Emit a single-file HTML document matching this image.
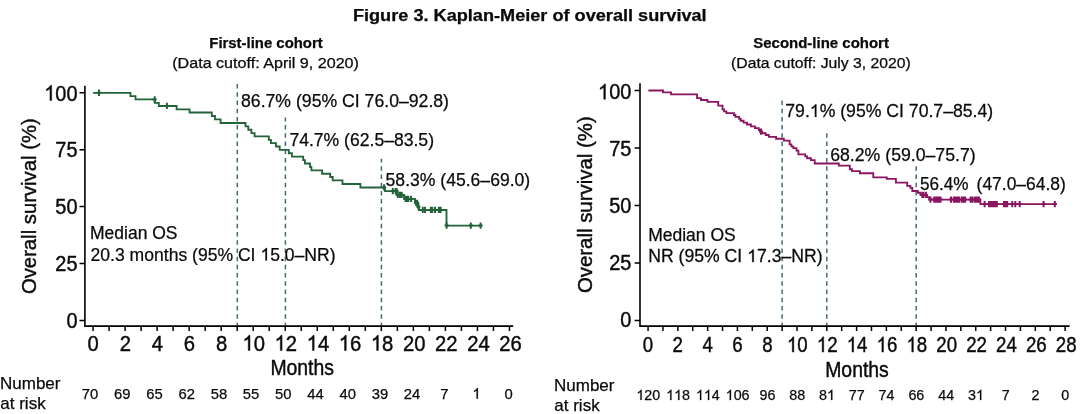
<!DOCTYPE html>
<html lang="en">
<head>
<meta charset="utf-8">
<title>Figure 3. Kaplan-Meier of overall survival</title>
<style>
html,body{margin:0;padding:0;background:#fff;}
body{width:1080px;height:414px;overflow:hidden;font-family:"Liberation Sans",sans-serif;}
svg{display:block;will-change:transform;}
svg text{font-family:"Liberation Sans",sans-serif;fill:#0a0a0a;stroke:#0a0a0a;stroke-width:0.25px;}
svg .ax text{stroke-width:0.42px;}
</style>
</head>
<body>
<svg width="1080" height="414" viewBox="0 0 1080 414" role="img" aria-label="Kaplan-Meier curves of overall survival for first-line and second-line cohorts">
<g id="titles">
<text x="529.8" y="20.8" font-size="15.6" text-anchor="middle" font-weight="bold" textLength="353.7" lengthAdjust="spacingAndGlyphs">Figure 3. Kaplan-Meier of overall survival</text>
<text x="266.0" y="47.8" font-size="14.0" text-anchor="middle" font-weight="bold" textLength="113.4" lengthAdjust="spacingAndGlyphs">First-line cohort</text>
<text x="265.6" y="68.2" font-size="13.8" text-anchor="middle" textLength="186.7" lengthAdjust="spacingAndGlyphs">(Data cutoff: April 9, 2020)</text>
<text x="821.1" y="47.8" font-size="14.0" text-anchor="middle" font-weight="bold" textLength="135.6" lengthAdjust="spacingAndGlyphs">Second-line cohort</text>
<text x="820.9" y="68.2" font-size="13.8" text-anchor="middle" textLength="179.6" lengthAdjust="spacingAndGlyphs">(Data cutoff: July 3, 2020)</text>
</g>
<g id="left-plot">
<path d="M237.3 326.9V83.7" stroke="#486a78" stroke-width="1.5" stroke-dasharray="4.5 3.72" fill="none"/>
<path d="M285.4 326.9V117.5" stroke="#486a78" stroke-width="1.5" stroke-dasharray="4.5 3.72" fill="none"/>
<path d="M381.4 326.9V158.8" stroke="#486a78" stroke-width="1.5" stroke-dasharray="4.5 3.72" fill="none"/>
<g class="ax">
<path d="M84.9 85.8V326.1H513.2" fill="none" stroke="#000000" stroke-width="1.6"/>
<g transform="translate(77.50 100.50) scale(0.94 1)"><path d="M763 0H583V1147Q518 1085 412 1023T223 930V1104Q374 1175 487 1276T647 1472H763Z" transform="translate(-35.37 0) scale(0.01035 -0.01035)" fill="#0a0a0a" stroke="#0a0a0a" stroke-width="41"/><text x="-23.58" y="0" font-size="21.2">00</text></g>
<text transform="translate(77.50 157.40) scale(0.94 1)" font-size="21.2" text-anchor="end">75</text>
<text transform="translate(77.50 214.30) scale(0.94 1)" font-size="21.2" text-anchor="end">50</text>
<text transform="translate(77.50 271.20) scale(0.94 1)" font-size="21.2" text-anchor="end">25</text>
<text transform="translate(77.50 328.10) scale(0.94 1)" font-size="21.2" text-anchor="end">0</text>
<text transform="translate(93.20 350.50) scale(0.955 1)" font-size="21.2" text-anchor="middle">0</text>
<text transform="translate(125.30 350.50) scale(0.955 1)" font-size="21.2" text-anchor="middle">2</text>
<text transform="translate(157.40 350.50) scale(0.955 1)" font-size="21.2" text-anchor="middle">4</text>
<text transform="translate(189.50 350.50) scale(0.955 1)" font-size="21.2" text-anchor="middle">6</text>
<text transform="translate(221.60 350.50) scale(0.955 1)" font-size="21.2" text-anchor="middle">8</text>
<g transform="translate(253.70 350.50) scale(0.955 1)"><path d="M763 0H583V1147Q518 1085 412 1023T223 930V1104Q374 1175 487 1276T647 1472H763Z" transform="translate(-11.79 0) scale(0.01035 -0.01035)" fill="#0a0a0a" stroke="#0a0a0a" stroke-width="41"/><text x="0.00" y="0" font-size="21.2">0</text></g>
<g transform="translate(285.80 350.50) scale(0.955 1)"><path d="M763 0H583V1147Q518 1085 412 1023T223 930V1104Q374 1175 487 1276T647 1472H763Z" transform="translate(-11.79 0) scale(0.01035 -0.01035)" fill="#0a0a0a" stroke="#0a0a0a" stroke-width="41"/><text x="0.00" y="0" font-size="21.2">2</text></g>
<g transform="translate(317.90 350.50) scale(0.955 1)"><path d="M763 0H583V1147Q518 1085 412 1023T223 930V1104Q374 1175 487 1276T647 1472H763Z" transform="translate(-11.79 0) scale(0.01035 -0.01035)" fill="#0a0a0a" stroke="#0a0a0a" stroke-width="41"/><text x="0.00" y="0" font-size="21.2">4</text></g>
<g transform="translate(350.00 350.50) scale(0.955 1)"><path d="M763 0H583V1147Q518 1085 412 1023T223 930V1104Q374 1175 487 1276T647 1472H763Z" transform="translate(-11.79 0) scale(0.01035 -0.01035)" fill="#0a0a0a" stroke="#0a0a0a" stroke-width="41"/><text x="0.00" y="0" font-size="21.2">6</text></g>
<g transform="translate(382.10 350.50) scale(0.955 1)"><path d="M763 0H583V1147Q518 1085 412 1023T223 930V1104Q374 1175 487 1276T647 1472H763Z" transform="translate(-11.79 0) scale(0.01035 -0.01035)" fill="#0a0a0a" stroke="#0a0a0a" stroke-width="41"/><text x="0.00" y="0" font-size="21.2">8</text></g>
<text transform="translate(414.20 350.50) scale(0.955 1)" font-size="21.2" text-anchor="middle">20</text>
<text transform="translate(446.30 350.50) scale(0.955 1)" font-size="21.2" text-anchor="middle">22</text>
<text transform="translate(478.40 350.50) scale(0.955 1)" font-size="21.2" text-anchor="middle">24</text>
<text transform="translate(510.50 350.50) scale(0.955 1)" font-size="21.2" text-anchor="middle">26</text>
<path d="M79.5 92.8H84.9M79.5 149.7H84.9M79.5 206.6H84.9M79.5 263.5H84.9M79.5 320.4H84.9M93.07 326.1V331.1M109.08 326.1V331.1M125.10 326.1V331.1M141.12 326.1V331.1M157.13 326.1V331.1M173.14 326.1V331.1M189.16 326.1V331.1M205.18 326.1V331.1M221.19 326.1V331.1M237.20 326.1V331.1M253.22 326.1V331.1M269.24 326.1V331.1M285.25 326.1V331.1M301.26 326.1V331.1M317.28 326.1V331.1M333.30 326.1V331.1M349.31 326.1V331.1M365.32 326.1V331.1M381.34 326.1V331.1M397.36 326.1V331.1M413.37 326.1V331.1M429.38 326.1V331.1M445.40 326.1V331.1M461.42 326.1V331.1M477.43 326.1V331.1M493.44 326.1V331.1M509.46 326.1V331.1" fill="none" stroke="#000000" stroke-width="1.5"/>
<text transform="translate(302.20 375.00) scale(0.915 1)" font-size="21.2" text-anchor="middle">Months</text>
<text transform="translate(35.8 206.2) rotate(-90)" font-size="20.3" text-anchor="middle">Overall survival (%)</text>
</g>
<path d="M93.1 92.8H130.4V96.1H135.5V99.4H155.0V102.8H158.8V106.0H176.6V109.3H189.6V112.5H211.8V116.0H215.0V119.4H220.6V123.0H245.5V126.4H248.3V129.7H251.4V133.1H254.6V136.4H268.8V139.8H270.9V143.1H276.0V146.5H279.7V149.8H288.8V153.2H291.9V156.6H303.2V160.1H304.9V163.5H310.1V167.0H311.4V170.4H322.1V173.7H330.2V177.0H332.7V180.4H342.5V184.0H360.4V187.5H385.0V191.1H396.7V195.0H404.1V198.9H415.0V202.8H417.8V206.7H418.9V210.0H446.5V225.6H482.2" fill="none" stroke="#22633a" stroke-width="1.85" stroke-linejoin="miter"/>
<path d="M99.0 89.6v6.3M97.0 92.8h4.0M154.7 96.2v6.3M152.7 99.4h4.0M166.9 102.8v6.3M164.9 106.0h4.0M384.1 184.3v6.3M382.1 187.5h4.0M392.8 187.9v6.3M390.8 191.1h4.0M395.6 187.9v6.3M393.6 191.1h4.0M396.6 187.9v6.3M394.6 191.1h4.0M397.8 191.8v6.3M395.8 195.0h4.0M400.0 191.8v6.3M398.0 195.0h4.0M401.7 191.8v6.3M399.7 195.0h4.0M405.6 195.8v6.3M403.6 198.9h4.0M407.2 195.8v6.3M405.2 198.9h4.0M408.3 195.8v6.3M406.3 198.9h4.0M411.1 195.8v6.3M409.1 198.9h4.0M416.1 199.7v6.3M414.1 202.8h4.0M417.2 199.7v6.3M415.2 202.8h4.0M418.4 203.5v6.3M416.4 206.7h4.0M422.8 206.8v6.3M420.8 210.0h4.0M425.0 206.8v6.3M423.0 210.0h4.0M430.8 206.8v6.3M428.8 210.0h4.0M432.2 206.8v6.3M430.2 210.0h4.0M435.0 206.8v6.3M433.0 210.0h4.0M438.9 206.8v6.3M436.9 210.0h4.0M440.6 206.8v6.3M438.6 210.0h4.0M446.6 222.4v6.3M444.6 225.6h4.0M470.8 222.4v6.3M468.8 225.6h4.0M480.6 222.4v6.3M478.6 225.6h4.0" fill="none" stroke="#22633a" stroke-width="2.0"/>
<text x="241.0" y="106.8" font-size="17.5" textLength="208" lengthAdjust="spacingAndGlyphs">86.7% (95% CI 76.0–92.8)</text>
<text x="289.4" y="145.8" font-size="17.5" textLength="144.6" lengthAdjust="spacingAndGlyphs">74.7% (62.5–83.5)</text>
<text x="385.6" y="185.5" font-size="17.5" textLength="144.6" lengthAdjust="spacingAndGlyphs">58.3% (45.6–69.0)</text>
<text x="90.0" y="239.3" font-size="17.5">Median OS</text>
<g transform="translate(90.60 260.50) scale(1.0035 1)"><text x="0.00" y="0" font-size="17.5">20.3 months (95% CI </text><path d="M763 0H583V1147Q518 1085 412 1023T223 930V1104Q374 1175 487 1276T647 1472H763Z" transform="translate(169.23 0) scale(0.00854 -0.00854)" fill="#0a0a0a" stroke="#0a0a0a" stroke-width="29"/><text x="178.97" y="0" font-size="17.5">5.0–NR)</text></g>
</g>
<g id="left-risk">
<text x="0.0" y="389.3" font-size="17">Number</text>
<text x="0.3" y="409.1" font-size="17">at risk</text>
<text transform="translate(90.10 398.70) scale(1 1)" font-size="14.8" text-anchor="middle">70</text>
<text transform="translate(122.30 398.70) scale(1 1)" font-size="14.8" text-anchor="middle">69</text>
<text transform="translate(154.50 398.70) scale(1 1)" font-size="14.8" text-anchor="middle">65</text>
<text transform="translate(186.70 398.70) scale(1 1)" font-size="14.8" text-anchor="middle">62</text>
<text transform="translate(218.90 398.70) scale(1 1)" font-size="14.8" text-anchor="middle">58</text>
<text transform="translate(251.10 398.70) scale(1 1)" font-size="14.8" text-anchor="middle">55</text>
<text transform="translate(283.30 398.70) scale(1 1)" font-size="14.8" text-anchor="middle">50</text>
<text transform="translate(315.50 398.70) scale(1 1)" font-size="14.8" text-anchor="middle">44</text>
<text transform="translate(347.70 398.70) scale(1 1)" font-size="14.8" text-anchor="middle">40</text>
<text transform="translate(379.90 398.70) scale(1 1)" font-size="14.8" text-anchor="middle">39</text>
<text transform="translate(412.10 398.70) scale(1 1)" font-size="14.8" text-anchor="middle">24</text>
<text transform="translate(444.30 398.70) scale(1 1)" font-size="14.8" text-anchor="middle">7</text>
<g transform="translate(476.50 398.70) scale(1 1)"><path d="M763 0H583V1147Q518 1085 412 1023T223 930V1104Q374 1175 487 1276T647 1472H763Z" transform="translate(-4.12 0) scale(0.00723 -0.00723)" fill="#0a0a0a" stroke="#0a0a0a" stroke-width="35"/></g>
<text transform="translate(508.70 398.70) scale(1 1)" font-size="14.8" text-anchor="middle">0</text>
</g>
<g id="right-plot">
<path d="M782.1 326.9V99.5" stroke="#486a78" stroke-width="1.5" stroke-dasharray="4.5 3.72" fill="none"/>
<path d="M826.8 326.9V132.8" stroke="#486a78" stroke-width="1.5" stroke-dasharray="4.5 3.72" fill="none"/>
<path d="M916.2 326.9V166.1" stroke="#486a78" stroke-width="1.5" stroke-dasharray="4.5 3.72" fill="none"/>
<g class="ax">
<path d="M640.0 83.3V326.1H1069.6" fill="none" stroke="#000000" stroke-width="1.6"/>
<g transform="translate(631.30 99.20) scale(0.94 1)"><path d="M763 0H583V1147Q518 1085 412 1023T223 930V1104Q374 1175 487 1276T647 1472H763Z" transform="translate(-35.37 0) scale(0.01035 -0.01035)" fill="#0a0a0a" stroke="#0a0a0a" stroke-width="41"/><text x="-23.58" y="0" font-size="21.2">00</text></g>
<text transform="translate(631.30 156.20) scale(0.94 1)" font-size="21.2" text-anchor="end">75</text>
<text transform="translate(631.30 213.20) scale(0.94 1)" font-size="21.2" text-anchor="end">50</text>
<text transform="translate(631.30 270.20) scale(0.94 1)" font-size="21.2" text-anchor="end">25</text>
<text transform="translate(631.30 327.20) scale(0.94 1)" font-size="21.2" text-anchor="end">0</text>
<text transform="translate(647.90 352.10) scale(0.88 1)" font-size="21.2" text-anchor="middle">0</text>
<text transform="translate(677.78 352.10) scale(0.88 1)" font-size="21.2" text-anchor="middle">2</text>
<text transform="translate(707.66 352.10) scale(0.88 1)" font-size="21.2" text-anchor="middle">4</text>
<text transform="translate(737.54 352.10) scale(0.88 1)" font-size="21.2" text-anchor="middle">6</text>
<text transform="translate(767.42 352.10) scale(0.88 1)" font-size="21.2" text-anchor="middle">8</text>
<g transform="translate(797.30 352.10) scale(0.88 1)"><path d="M763 0H583V1147Q518 1085 412 1023T223 930V1104Q374 1175 487 1276T647 1472H763Z" transform="translate(-11.79 0) scale(0.01035 -0.01035)" fill="#0a0a0a" stroke="#0a0a0a" stroke-width="41"/><text x="0.00" y="0" font-size="21.2">0</text></g>
<g transform="translate(827.18 352.10) scale(0.88 1)"><path d="M763 0H583V1147Q518 1085 412 1023T223 930V1104Q374 1175 487 1276T647 1472H763Z" transform="translate(-11.79 0) scale(0.01035 -0.01035)" fill="#0a0a0a" stroke="#0a0a0a" stroke-width="41"/><text x="0.00" y="0" font-size="21.2">2</text></g>
<g transform="translate(857.06 352.10) scale(0.88 1)"><path d="M763 0H583V1147Q518 1085 412 1023T223 930V1104Q374 1175 487 1276T647 1472H763Z" transform="translate(-11.79 0) scale(0.01035 -0.01035)" fill="#0a0a0a" stroke="#0a0a0a" stroke-width="41"/><text x="0.00" y="0" font-size="21.2">4</text></g>
<g transform="translate(886.94 352.10) scale(0.88 1)"><path d="M763 0H583V1147Q518 1085 412 1023T223 930V1104Q374 1175 487 1276T647 1472H763Z" transform="translate(-11.79 0) scale(0.01035 -0.01035)" fill="#0a0a0a" stroke="#0a0a0a" stroke-width="41"/><text x="0.00" y="0" font-size="21.2">6</text></g>
<g transform="translate(916.82 352.10) scale(0.88 1)"><path d="M763 0H583V1147Q518 1085 412 1023T223 930V1104Q374 1175 487 1276T647 1472H763Z" transform="translate(-11.79 0) scale(0.01035 -0.01035)" fill="#0a0a0a" stroke="#0a0a0a" stroke-width="41"/><text x="0.00" y="0" font-size="21.2">8</text></g>
<text transform="translate(946.70 352.10) scale(0.88 1)" font-size="21.2" text-anchor="middle">20</text>
<text transform="translate(976.58 352.10) scale(0.88 1)" font-size="21.2" text-anchor="middle">22</text>
<text transform="translate(1006.46 352.10) scale(0.88 1)" font-size="21.2" text-anchor="middle">24</text>
<text transform="translate(1036.34 352.10) scale(0.88 1)" font-size="21.2" text-anchor="middle">26</text>
<text transform="translate(1066.22 352.10) scale(0.88 1)" font-size="21.2" text-anchor="middle">28</text>
<path d="M634.6 90.5H640.0M634.6 148.0H640.0M634.6 205.6H640.0M634.6 263.1H640.0M634.6 320.6H640.0M648.07 326.1V331.1M662.96 326.1V331.1M677.86 326.1V331.1M692.75 326.1V331.1M707.65 326.1V331.1M722.54 326.1V331.1M737.43 326.1V331.1M752.33 326.1V331.1M767.22 326.1V331.1M782.12 326.1V331.1M797.01 326.1V331.1M811.90 326.1V331.1M826.80 326.1V331.1M841.69 326.1V331.1M856.59 326.1V331.1M871.48 326.1V331.1M886.37 326.1V331.1M901.27 326.1V331.1M916.16 326.1V331.1M931.06 326.1V331.1M945.95 326.1V331.1M960.84 326.1V331.1M975.74 326.1V331.1M990.63 326.1V331.1M1005.53 326.1V331.1M1020.42 326.1V331.1M1035.31 326.1V331.1M1050.21 326.1V331.1M1065.10 326.1V331.1" fill="none" stroke="#000000" stroke-width="1.5"/>
<text transform="translate(857.00 376.80) scale(0.915 1)" font-size="21.2" text-anchor="middle">Months</text>
<text transform="translate(591.8 204.7) rotate(-90)" font-size="20.4" text-anchor="middle">Overall survival (%)</text>
</g>
<path d="M648.4 90.5H663.0V92.4H671.1V94.3H697.1V98.1H700.9V100.0H707.5V101.8H718.2V105.6H722.5V109.4H724.1V111.3H726.4V113.1H733.9V115.0H735.4V116.9H739.2V118.8H740.7V120.7H743.6V122.6H747.0V124.5H750.9V126.3H755.0V128.1H758.8V130.0H760.3V131.6H761.9V133.2H765.7V135.0H768.8V136.8H776.1V138.7H783.9V140.6H789.6V144.4H791.4V146.3H793.3V148.1H796.5V150.6H798.4V154.4H805.3V156.3H807.1V158.2H810.9V160.1H814.7V163.5H838.8V165.6H849.8V169.2H852.0V171.1H859.9V173.2H873.3V177.4H886.8V178.9H895.9V182.6H907.2V185.8H910.4V187.9H912.3V191.0H917.9V192.7H920.4V194.9H926.7V197.1H929.2V199.6H980.4V204.1H1056.8" fill="none" stroke="#8a1561" stroke-width="1.85" stroke-linejoin="miter"/>
<path d="M761.0 128.4v6.3M759.0 131.6h4.0M922.3 191.8v6.3M920.3 194.9h4.0M923.6 191.8v6.3M921.6 194.9h4.0M926.1 191.8v6.3M924.1 194.9h4.0M930.5 196.4v6.3M928.5 199.6h4.0M934.2 196.4v6.3M932.2 199.6h4.0M936.1 196.4v6.3M934.1 199.6h4.0M937.4 196.4v6.3M935.4 199.6h4.0M938.6 196.4v6.3M936.6 199.6h4.0M940.5 196.4v6.3M938.5 199.6h4.0M951.0 196.4v6.3M949.0 199.6h4.0M953.8 196.4v6.3M951.8 199.6h4.0M955.6 196.4v6.3M953.6 199.6h4.0M957.6 196.4v6.3M955.6 199.6h4.0M959.4 196.4v6.3M957.4 199.6h4.0M962.0 196.4v6.3M960.0 199.6h4.0M963.8 196.4v6.3M961.8 199.6h4.0M965.1 196.4v6.3M963.1 199.6h4.0M970.7 196.4v6.3M968.7 199.6h4.0M972.0 196.4v6.3M970.0 199.6h4.0M974.5 196.4v6.3M972.5 199.6h4.0M975.8 196.4v6.3M973.8 199.6h4.0M977.7 196.4v6.3M975.7 199.6h4.0M978.9 196.4v6.3M976.9 199.6h4.0M984.6 200.9v6.3M982.6 204.1h4.0M989.0 200.9v6.3M987.0 204.1h4.0M990.2 200.9v6.3M988.2 204.1h4.0M991.5 200.9v6.3M989.5 204.1h4.0M992.7 200.9v6.3M990.7 204.1h4.0M994.0 200.9v6.3M992.0 204.1h4.0M995.9 200.9v6.3M993.9 204.1h4.0M996.8 200.9v6.3M994.8 204.1h4.0M1004.0 200.9v6.3M1002.0 204.1h4.0M1005.3 200.9v6.3M1003.3 204.1h4.0M1007.2 200.9v6.3M1005.2 204.1h4.0M1012.2 200.9v6.3M1010.2 204.1h4.0M1015.3 200.9v6.3M1013.3 204.1h4.0M1019.7 200.9v6.3M1017.7 204.1h4.0M1043.6 200.9v6.3M1041.6 204.1h4.0M1054.8 200.9v6.3M1052.8 204.1h4.0" fill="none" stroke="#8a1561" stroke-width="2.0"/>
<g transform="translate(785.30 116.90) scale(1.0085 1)"><text x="0.00" y="0" font-size="17.5">79.</text><path d="M763 0H583V1147Q518 1085 412 1023T223 930V1104Q374 1175 487 1276T647 1472H763Z" transform="translate(24.31 0) scale(0.00854 -0.00854)" fill="#0a0a0a" stroke="#0a0a0a" stroke-width="29"/><text x="34.05" y="0" font-size="17.5">% (95% CI 70.7–85.4)</text></g>
<text x="830.2" y="160.9" font-size="17.5" textLength="145.5" lengthAdjust="spacingAndGlyphs">68.2% (59.0–75.7)</text>
<text x="920.0" y="189.9" font-size="17.5" textLength="48.6" lengthAdjust="spacingAndGlyphs">56.4%</text>
<text x="1065.8" y="189.9" font-size="17.5" text-anchor="end" textLength="89.2" lengthAdjust="spacingAndGlyphs">(47.0–64.8)</text>
<text x="648.2" y="240.8" font-size="17.5">Median OS</text>
<g transform="translate(648.20 262.00) scale(1.0079 1)"><text x="0.00" y="0" font-size="17.5">NR (95% CI </text><path d="M763 0H583V1147Q518 1085 412 1023T223 930V1104Q374 1175 487 1276T647 1472H763Z" transform="translate(98.20 0) scale(0.00854 -0.00854)" fill="#0a0a0a" stroke="#0a0a0a" stroke-width="29"/><text x="107.94" y="0" font-size="17.5">7.3–NR)</text></g>
</g>
<g id="right-risk">
<text x="554.0" y="391.3" font-size="17">Number</text>
<text x="554.3" y="411.3" font-size="17">at risk</text>
<g transform="translate(648.27 400.00) scale(1 1)"><path d="M763 0H583V1147Q518 1085 412 1023T223 930V1104Q374 1175 487 1276T647 1472H763Z" transform="translate(-11.93 0) scale(0.00698 -0.00698)" fill="#0a0a0a" stroke="#0a0a0a" stroke-width="36"/><text x="-3.98" y="0" font-size="14.3">20</text></g>
<g transform="translate(678.06 400.00) scale(1 1)"><path d="M763 0H583V1147Q518 1085 412 1023T223 930V1104Q374 1175 487 1276T647 1472H763Z" transform="translate(-11.93 0) scale(0.00698 -0.00698)" fill="#0a0a0a" stroke="#0a0a0a" stroke-width="36"/><path d="M763 0H583V1147Q518 1085 412 1023T223 930V1104Q374 1175 487 1276T647 1472H763Z" transform="translate(-3.98 0) scale(0.00698 -0.00698)" fill="#0a0a0a" stroke="#0a0a0a" stroke-width="36"/><text x="3.98" y="0" font-size="14.3">8</text></g>
<g transform="translate(707.85 400.00) scale(1 1)"><path d="M763 0H583V1147Q518 1085 412 1023T223 930V1104Q374 1175 487 1276T647 1472H763Z" transform="translate(-11.93 0) scale(0.00698 -0.00698)" fill="#0a0a0a" stroke="#0a0a0a" stroke-width="36"/><path d="M763 0H583V1147Q518 1085 412 1023T223 930V1104Q374 1175 487 1276T647 1472H763Z" transform="translate(-3.98 0) scale(0.00698 -0.00698)" fill="#0a0a0a" stroke="#0a0a0a" stroke-width="36"/><text x="3.98" y="0" font-size="14.3">4</text></g>
<g transform="translate(737.63 400.00) scale(1 1)"><path d="M763 0H583V1147Q518 1085 412 1023T223 930V1104Q374 1175 487 1276T647 1472H763Z" transform="translate(-11.93 0) scale(0.00698 -0.00698)" fill="#0a0a0a" stroke="#0a0a0a" stroke-width="36"/><text x="-3.98" y="0" font-size="14.3">06</text></g>
<text transform="translate(767.42 400.00) scale(1 1)" font-size="14.3" text-anchor="middle">96</text>
<text transform="translate(797.21 400.00) scale(1 1)" font-size="14.3" text-anchor="middle">88</text>
<g transform="translate(827.00 400.00) scale(1 1)"><text x="-7.95" y="0" font-size="14.3">8</text><path d="M763 0H583V1147Q518 1085 412 1023T223 930V1104Q374 1175 487 1276T647 1472H763Z" transform="translate(0.00 0) scale(0.00698 -0.00698)" fill="#0a0a0a" stroke="#0a0a0a" stroke-width="36"/></g>
<text transform="translate(856.79 400.00) scale(1 1)" font-size="14.3" text-anchor="middle">77</text>
<text transform="translate(886.57 400.00) scale(1 1)" font-size="14.3" text-anchor="middle">74</text>
<text transform="translate(916.36 400.00) scale(1 1)" font-size="14.3" text-anchor="middle">66</text>
<text transform="translate(946.15 400.00) scale(1 1)" font-size="14.3" text-anchor="middle">44</text>
<g transform="translate(975.94 400.00) scale(1 1)"><text x="-7.95" y="0" font-size="14.3">3</text><path d="M763 0H583V1147Q518 1085 412 1023T223 930V1104Q374 1175 487 1276T647 1472H763Z" transform="translate(0.00 0) scale(0.00698 -0.00698)" fill="#0a0a0a" stroke="#0a0a0a" stroke-width="36"/></g>
<text transform="translate(1005.73 400.00) scale(1 1)" font-size="14.3" text-anchor="middle">7</text>
<text transform="translate(1035.51 400.00) scale(1 1)" font-size="14.3" text-anchor="middle">2</text>
<text transform="translate(1065.30 400.00) scale(1 1)" font-size="14.3" text-anchor="middle">0</text>
</g>
</svg>
</body>
</html>
